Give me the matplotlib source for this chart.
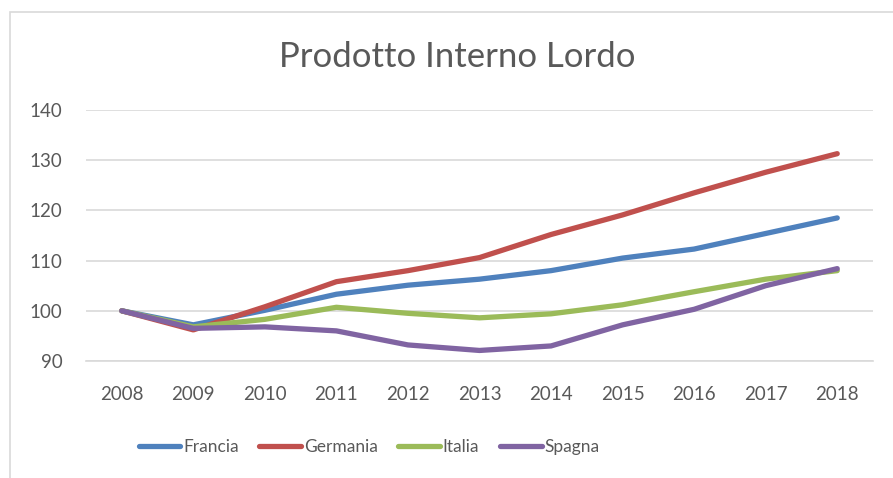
import matplotlib
matplotlib.use("Agg")
import matplotlib.pyplot as plt
from matplotlib.patches import Rectangle

years = [2008, 2009, 2010, 2011, 2012, 2013, 2014, 2015, 2016, 2017, 2018]
francia = [100, 97.2, 100.1, 103.3, 105.1, 106.3, 108.0, 110.5, 112.3, 115.4, 118.5]
germania = [100, 96.2, 100.8, 105.8, 108.0, 110.6, 115.2, 119.1, 123.5, 127.6, 131.3]
italia = [100, 96.8, 98.3, 100.7, 99.5, 98.6, 99.4, 101.2, 103.8, 106.3, 108.0]
spagna = [100, 96.5, 96.8, 96.0, 93.2, 92.1, 93.0, 97.2, 100.3, 105.0, 108.4]
y_ticks = [90, 100, 110, 120, 130, 140]

series = [
    ("Francia", francia, "#4F81BD"),
    ("Germania", germania, "#C0504D"),
    ("Italia", italia, "#9BBB59"),
    ("Spagna", spagna, "#8064A2"),
]

plt.rcParams["font.family"] = ["Lato", "DejaVu Sans"]
TEXT = "#595959"
GRID = "#D9D9D9"

W, H = 893, 478
fig = plt.figure(figsize=(W / 100, H / 100), dpi=100)
ax = fig.add_axes([86 / W, 1 - 361 / H, (873 - 86) / W, (361 - 110) / H])

# chart border (Excel chart area)
fig.patches.append(Rectangle((10 / W, -0.1), 1.2, 1.1 - 12 / H, transform=fig.transFigure,
                             fill=False, edgecolor=GRID, linewidth=1.2))

x = list(range(len(years)))
for name, vals, color in series:
    ax.plot(x, vals, color=color, linewidth=3.8, solid_capstyle="round",
            solid_joinstyle="round", label=name)

ax.set_xlim(-0.5, len(years) - 0.5)
ax.set_ylim(90, 140)
ax.set_yticks(y_ticks)
ax.set_xticks(x)
ax.set_xticklabels([str(y) for y in years])
ax.yaxis.grid(True, color=GRID, linewidth=1.2)
ax.set_axisbelow(True)
for side in ["top", "right", "left"]:
    ax.spines[side].set_visible(False)
ax.spines["bottom"].set_color(GRID)
ax.spines["bottom"].set_linewidth(1.2)
ax.tick_params(axis="both", length=0, labelsize=13.5, colors=TEXT)
ax.tick_params(axis="y", pad=17)
ax.tick_params(axis="x", pad=18)

fig.text(457 / W, 1 - 57 / H, "Prodotto Interno Lordo", ha="center", va="center",
         fontsize=25, color=TEXT)

leg = fig.legend(loc="center", bbox_to_anchor=(369 / W, 1 - 447 / H), ncol=4,
                 frameon=False, fontsize=12.5, handlelength=2.4, handletextpad=0.15,
                 columnspacing=1.2, labelcolor=TEXT)

fig.savefig("out.png", dpi=100)
